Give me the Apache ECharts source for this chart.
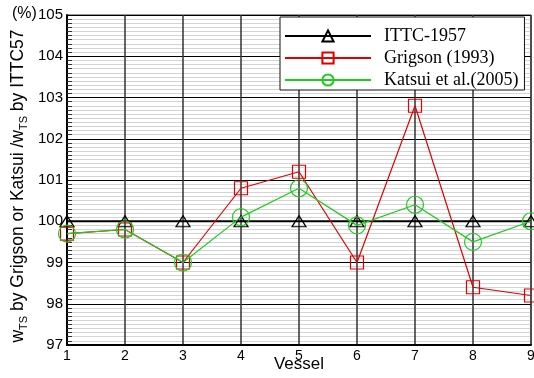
<!DOCTYPE html>
<html>
<head>
<meta charset="utf-8">
<script src="https://cdn.jsdelivr.net/npm/echarts@6/dist/echarts.min.js"></script>
<style>
  html, body { margin: 0; padding: 0; background: #fff; }
  #chart { width: 534px; height: 378px; }
</style>
</head>
<body>
<div id="chart"></div>
<script>
// Vessel numbers and wake fraction ratios (%)
const vessels = [1, 2, 3, 4, 5, 6, 7, 8, 9];
const ittc1957 = [100, 100, 100, 100, 100, 100, 100, 100, 100];
const grigson1993 = [99.7, 99.8, 99.0, 100.8, 101.2, 99.0, 102.8, 98.4, 98.2];
const katsui2005 = [99.7, 99.8, 99.0, 100.1, 100.8, 99.9, 100.4, 99.5, 100.0];
const seriesNames = ['ITTC-1957', 'Grigson (1993)', 'Katsui et al.(2005)'];

const pairs = (ys) => vessels.map((v, i) => [v, ys[i]]);

const chart = echarts.init(document.getElementById('chart'), null, { renderer: 'canvas' });

const sans = 'Liberation Sans, Arial, sans-serif';
const serif = 'Liberation Serif, Times New Roman, serif';

chart.setOption({
  animation: false,
  backgroundColor: '#fff',
  grid: {
    left: 67, right: 3, top: 15, bottom: 33,
    outerBoundsMode: 'none',
    containLabel: false,
    show: true, borderColor: '#333', borderWidth: 1
  },
  legend: {
    orient: 'vertical',
    left: 280, top: 17,
    padding: [10, 6, 1, 4],
    itemGap: 4,
    itemWidth: 86,
    itemHeight: 14,
    backgroundColor: '#fff',
    borderColor: '#111',
    borderWidth: 1,
    textStyle: { fontFamily: serif, fontSize: 18, lineHeight: 18, color: '#000', padding: [0, 0, 0, 8] },
    data: seriesNames
  },
  xAxis: {
    type: 'value',
    min: 1, max: 9, interval: 1,
    name: 'Vessel',
    nameLocation: 'middle',
    nameGap: 11,
    nameMoveOverlap: false,
    nameTextStyle: { fontFamily: sans, fontSize: 17, color: '#000' },
    axisLine: { show: true, lineStyle: { color: '#000', width: 2 } },
    axisTick: { show: false },
    axisLabel: { fontFamily: sans, fontSize: 14, color: '#000', margin: 4 },
    splitLine: { show: true, lineStyle: { color: '#333', width: 1.5 } }
  },
  yAxis: {
    type: 'value',
    min: 97, max: 105, interval: 1,
    name: '{w|w}{sub|TS}{t| by Grigson or Katsui /}{w|w}{sub|TS}{t| by ITTC57}',
    nameLocation: 'middle',
    nameGap: 38,
    nameMoveOverlap: false,
    nameTextStyle: {
      fontFamily: sans, fontSize: 17.5, color: '#000',
      padding: [0, 12, 0, 0],
      rich: {
        w: { fontFamily: sans, fontSize: 17.5, color: '#000' },
        t: { fontFamily: sans, fontSize: 17.5, color: '#000' },
        sub: { fontFamily: sans, fontSize: 11, color: '#000', padding: [10, 0, 0, 0] }
      }
    },
    axisLine: { show: true, lineStyle: { color: '#000', width: 2 } },
    axisTick: { show: true, inside: true, length: 7, lineStyle: { color: '#000', width: 1 } },
    minorTick: { show: true, splitNumber: 10, length: 5, lineStyle: { color: '#333', width: 1 } },
    axisLabel: { fontFamily: sans, fontSize: 15, color: '#000', margin: 4 },
    splitLine: { show: true, lineStyle: { color: '#000', width: 1 } },
    minorSplitLine: { show: true, lineStyle: { color: '#d4d4d4', width: 1 } }
  },
  graphic: [
    {
      type: 'text', left: 12, top: 6,
      style: { text: '(%)', fontFamily: sans, fontSize: 16, fill: '#000' }
    }
  ],
  series: [
    {
      name: seriesNames[0], type: 'line', data: pairs(ittc1957),
      symbol: 'triangle', symbolSize: [14, 11],
      lineStyle: { color: '#000', width: 2 },
      itemStyle: { color: 'rgba(0,0,0,0)', borderColor: '#000', borderWidth: 1.2 },
      z: 3
    },
    {
      name: seriesNames[1], type: 'line', data: pairs(grigson1993),
      symbol: 'rect', symbolSize: 13,
      lineStyle: { color: '#e00000', width: 1.2 },
      itemStyle: { color: 'rgba(0,0,0,0)', borderColor: '#e00000', borderWidth: 1.2 },
      z: 4
    },
    {
      name: seriesNames[2], type: 'line', data: pairs(katsui2005),
      symbol: 'circle', symbolSize: 17,
      lineStyle: { color: '#1ecb1e', width: 1.2 },
      itemStyle: { color: 'rgba(0,0,0,0)', borderColor: '#1ecb1e', borderWidth: 1.2 },
      z: 5
    }
  ]
});
</script>
</body>
</html>
